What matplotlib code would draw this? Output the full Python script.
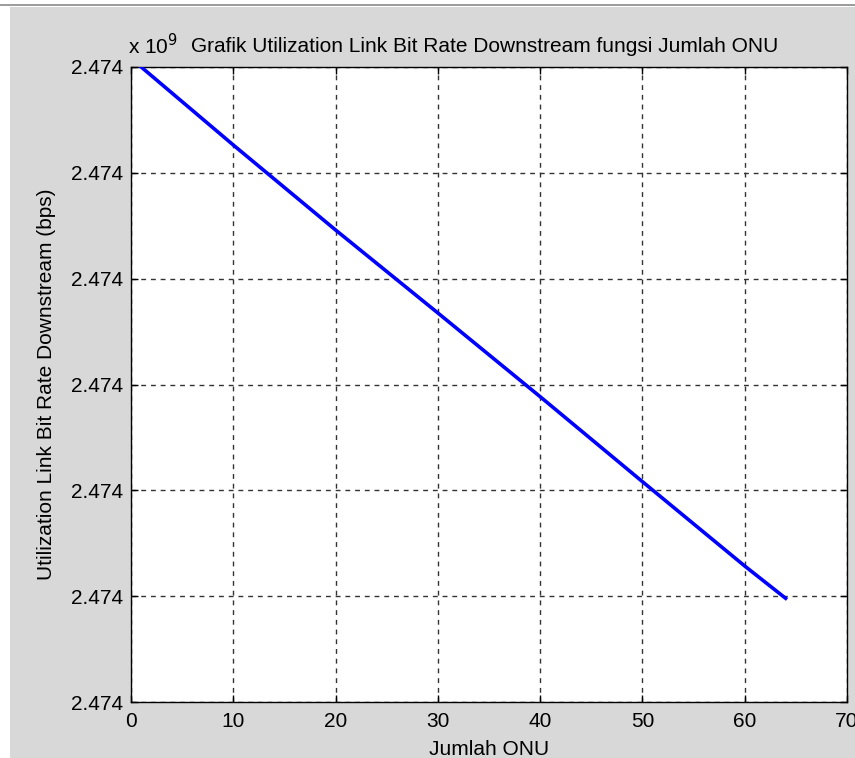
import matplotlib
matplotlib.use("Agg")
import matplotlib.pyplot as plt
from matplotlib.patches import Rectangle
from matplotlib.lines import Line2D

plt.rcParams['font.family'] = ['Liberation Sans', 'DejaVu Sans']

# Data (bps)
jumlah_onu = [1, 10, 20, 30, 40, 50, 60, 64]
bitrate_bps = [2474000000, 2473992630, 2473984600, 2473976760,
               2473968850, 2473960820, 2473952850, 2473949800]
x_ticks = [0, 10, 20, 30, 40, 50, 60, 70]
y_ticks = [2473940000, 2473950000, 2473960000, 2473970000,
           2473980000, 2473990000, 2474000000]
y_tick_labels = ['2.474'] * 7

title = 'Grafik Utilization Link Bit Rate Downstream fungsi Jumlah ONU'
xlabel = 'Jumlah ONU'
ylabel = 'Utilization Link Bit Rate Downstream (bps)'

W, H = 855, 758
FS = 15
fig = plt.figure(figsize=(W / 100, H / 100), dpi=100, facecolor='white')

# gray window background
fig.patches.append(Rectangle((10 / W, 0), 1 - 10 / W, 1 - 7 / H,
                             transform=fig.transFigure, facecolor='#d8d8d8',
                             edgecolor='none', zorder=-10))
fig.lines.append(Line2D([0, 1], [1 - 5 / H, 1 - 5 / H], transform=fig.transFigure,
                        color='#8a8a8a', lw=1.2, zorder=-5))

ax = fig.add_axes([131 / W, (H - 702) / H, (847 - 131) / W, (702 - 67) / H])
ax.set_zorder(1)
ax.set_facecolor('white')
ax.plot(jumlah_onu, bitrate_bps, color='#0000ff', lw=2.6, zorder=3)

ax.set_xlim(0, 70)
ax.set_ylim(y_ticks[0], y_ticks[-1])
ax.set_xticks(x_ticks)
ax.set_yticks(y_ticks)
ax.set_yticklabels(y_tick_labels)
ax.grid(True, color='#333333', linestyle=(0, (3.5, 3.5)), lw=1.0)
ax.tick_params(direction='in', length=5, width=1, labelsize=FS,
               top=True, right=True, colors='black')
ax.tick_params(axis='y', pad=5.5)
ax.tick_params(axis='x', pad=7)
for s in ax.spines.values():
    s.set_linewidth(1.0)
    s.set_color('black')

ax.set_xlabel(xlabel, fontsize=FS, labelpad=7)
ax.set_ylabel(ylabel, fontsize=FS, labelpad=11)
ax.set_title(title, fontsize=FS, pad=11, x=0.4937)
ax.text(-0.004, 1.014, r'x 10$^{9}$', transform=ax.transAxes, fontsize=FS,
        ha='left', va='bottom')

fig.savefig('out.png', dpi=100, facecolor=fig.get_facecolor())
